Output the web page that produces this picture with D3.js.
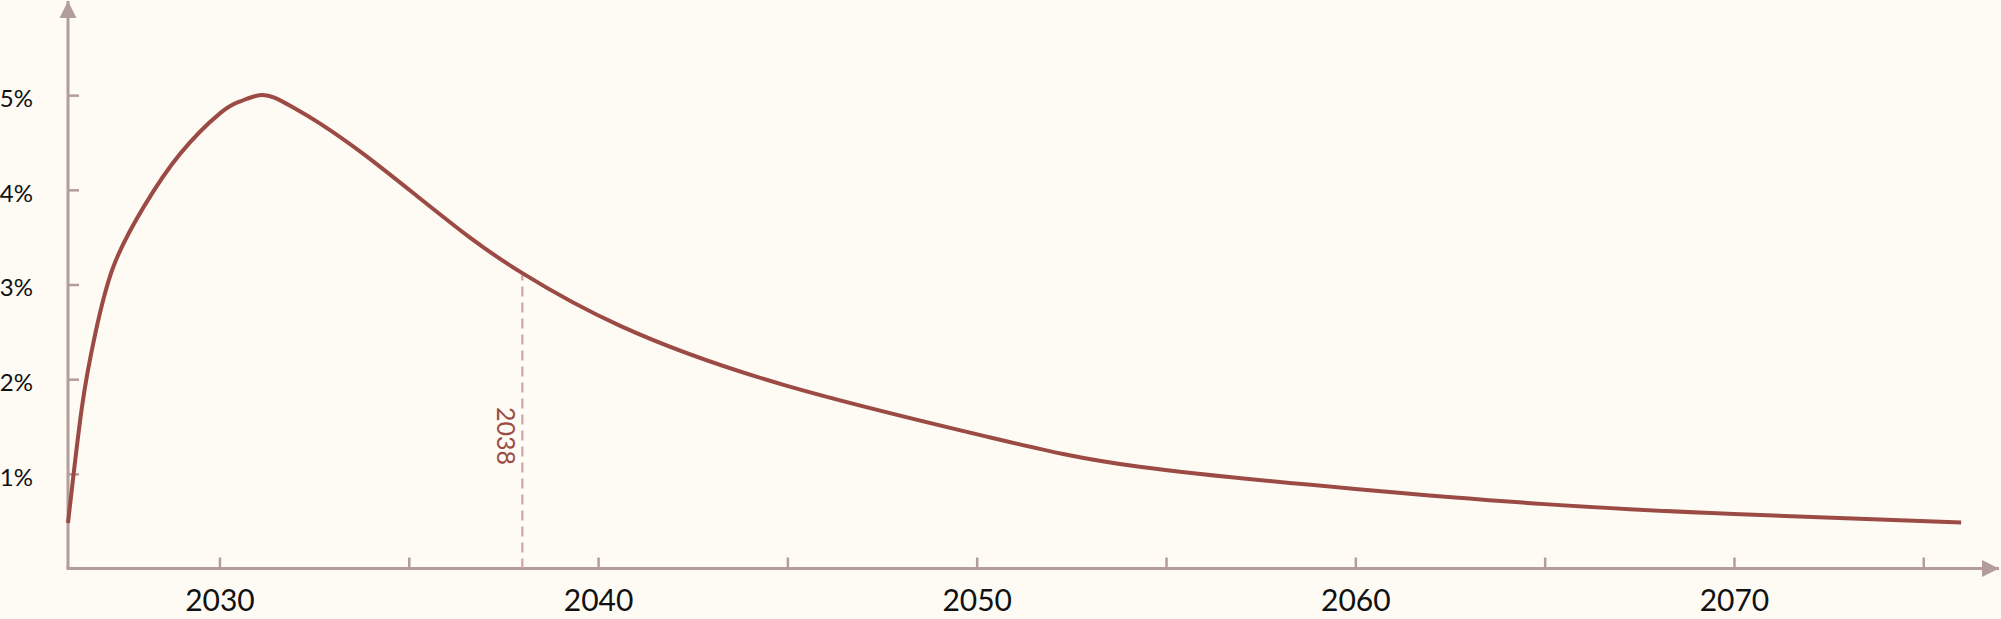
<!DOCTYPE html>
<html>
<head>
<meta charset="utf-8">
<script src="https://cdn.jsdelivr.net/npm/d3@7"></script>
<style>
  html, body { margin: 0; padding: 0; background: #fdfbf4; }
  svg { display: block; }
  text { font-family: Lato, "Open Sans", sans-serif; }
</style>
</head>
<body>
<div id="chart"></div>
<script>
// Curve (year, percent)
const years = [2026, 2026.37, 2026.72, 2027.2, 2028.0, 2028.96, 2030.02, 2030.55, 2031.05, 2031.45,
  2031.95, 2032.66, 2033.8, 2035.2, 2036.6, 2038.0, 2040.6, 2044.9, 2050.3, 2054.3,
  2060.0, 2065.0, 2070.0, 2076.0];
const values = [0.48, 1.71, 2.48, 3.19, 3.82, 4.38, 4.81, 4.935, 5.0, 4.974,
  4.87, 4.70, 4.38, 3.94, 3.50, 3.12, 2.56, 1.94, 1.39, 1.075,
  0.84, 0.68, 0.575, 0.485];

const xTicks = [2030, 2035, 2040, 2045, 2050, 2055, 2060, 2065, 2070, 2075];
const yTicks = [1, 2, 3, 4, 5];
const markerYear = 2038;

const w = 2001;
const h = 619;

const lineColor = "#9c4a44";
const axisColor = "#b39c9c";

const svg = d3.select("#chart")
  .append("svg")
  .attr("width", w)
  .attr("height", h);

const x = d3.scaleLinear().domain([2026, 2077]).range([68, 1999]);
const y = d3.scaleLinear().domain([0, 6]).range([568.5, 0.5]);

// arrow heads for the two axes
const defs = svg.append("defs");
defs.append("marker")
  .attr("id", "arrow")
  .attr("viewBox", "0 0 10 10")
  .attr("refX", 10)
  .attr("refY", 5)
  .attr("markerUnits", "userSpaceOnUse")
  .attr("markerWidth", 17)
  .attr("markerHeight", 18)
  .attr("orient", "auto")
  .append("path")
  .attr("d", "M0,0 L10,5 L0,10 Z")
  .attr("fill", axisColor);

// x axis (ticks point up, labels only every ten years)
const xAxis = d3.axisBottom(x)
  .tickValues(xTicks)
  .tickSizeInner(-11)
  .tickSizeOuter(0)
  .tickPadding(21)
  .tickFormat((d) => (d % 10 === 0 ? d : ""));

const gx = svg.append("g")
  .attr("transform", `translate(0,${y(0)})`)
  .call(xAxis);
gx.select(".domain").remove();
gx.selectAll(".tick line").attr("stroke", axisColor).attr("stroke-width", 2.5);
gx.selectAll(".tick text")
  .attr("fill", "#111")
  .style("font-size", "30px");

// y axis (ticks point right, labels on the left)
const yAxis = d3.axisLeft(y)
  .tickValues(yTicks)
  .tickSizeInner(-11)
  .tickSizeOuter(0)
  .tickPadding(35)
  .tickFormat((d) => d + "%");

const gy = svg.append("g")
  .attr("transform", `translate(${x(2026)},0)`)
  .call(yAxis);
gy.select(".domain").remove();
gy.selectAll(".tick line").attr("stroke", axisColor).attr("stroke-width", 2.5);
gy.selectAll(".tick text")
  .attr("fill", "#111")
  .attr("dy", "0.47em")
  .style("font-size", "24px");

// axis lines with arrows
svg.append("line")
  .attr("x1", x(2026)).attr("y1", y(0))
  .attr("x2", x(2026)).attr("y2", y(6) + 0.5)
  .attr("stroke", axisColor)
  .attr("stroke-width", 3)
  .attr("marker-end", "url(#arrow)");

svg.append("line")
  .attr("x1", x(2026) - 1.5).attr("y1", y(0))
  .attr("x2", x(2077)).attr("y2", y(0))
  .attr("stroke", axisColor)
  .attr("stroke-width", 3)
  .attr("marker-end", "url(#arrow)");

// dashed marker at 2038
const markerValue = values[years.indexOf(markerYear)];
svg.append("line")
  .attr("x1", x(markerYear)).attr("y1", y(0))
  .attr("x2", x(markerYear)).attr("y2", y(markerValue))
  .attr("stroke", "#cfa6a2")
  .attr("stroke-width", 2.2)
  .attr("stroke-dasharray", "10,6");

svg.append("text")
  .attr("transform", `translate(${x(markerYear) - 17},${y(1.4)}) rotate(90)`)
  .attr("text-anchor", "middle")
  .attr("dy", "0.35em")
  .attr("fill", lineColor)
  .style("font-size", "25px")
  .text(markerYear);

// the curve
const data = years.map((yr, i) => ({ year: yr, value: values[i] }));
const line = d3.line()
  .x((d) => x(d.year))
  .y((d) => y(d.value))
  .curve(d3.curveNatural);

svg.append("path")
  .datum(data)
  .attr("d", line)
  .attr("fill", "none")
  .attr("stroke", lineColor)
  .attr("stroke-width", 4)
  .attr("stroke-linecap", "butt");
</script>
</body>
</html>
